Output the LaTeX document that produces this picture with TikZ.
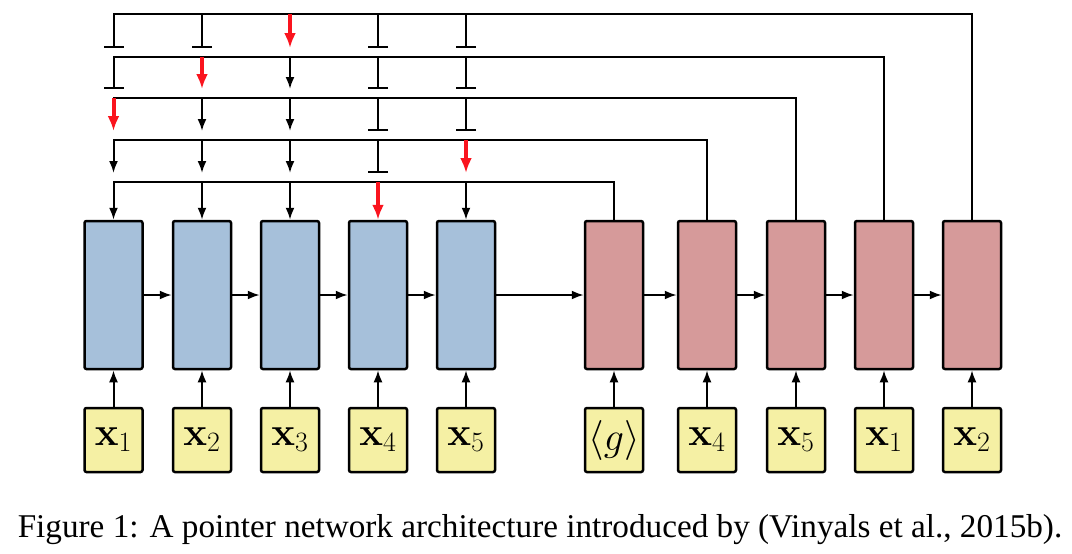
\documentclass[tikz,border=0pt]{standalone}
\usepackage{fix-cm}
\usepackage[no-math]{fontspec}
\usetikzlibrary{arrows.meta}
\setmainfont{Liberation Serif}
\definecolor{encblue}{RGB}{166,192,218}
\definecolor{decred}{RGB}{214,154,154}
\definecolor{inyellow}{RGB}{245,240,164}
\definecolor{ptrred}{RGB}{250,20,30}
\tikzset{
  rnnbox/.style={draw=black,line width=2.5pt,rounded corners=2pt,minimum width=58pt,minimum height=148pt,inner sep=0pt},
  inbox/.style={draw=black,fill=inyellow,line width=2.5pt,rounded corners=2pt,minimum width=58pt,minimum height=64pt,inner sep=0pt,font=\fontsize{40}{44}\selectfont},
  blocked/.style={-{Bar[width=20pt]}},
  pointed/.style={-{Latex[length=12pt,width=9pt]}},
  chosen/.style={draw=ptrred,line width=4pt,-{Latex[length=15pt,width=12pt]}}
}

\begin{document}
\begin{tikzpicture}[x=1pt,y=-1pt]
  \useasboundingbox (0,0) rectangle (1072,554);

  % encoder
  \node[rnnbox,fill=encblue] (e1) at (113.5,295) {};
  \node[rnnbox,fill=encblue] (e2) at (202,295) {};
  \node[rnnbox,fill=encblue] (e3) at (290,295) {};
  \node[rnnbox,fill=encblue] (e4) at (378,295) {};
  \node[rnnbox,fill=encblue] (e5) at (466,295) {};
  % decoder
  \node[rnnbox,fill=decred] (d1) at (614,295) {};
  \node[rnnbox,fill=decred] (d2) at (707,295) {};
  \node[rnnbox,fill=decred] (d3) at (796,295) {};
  \node[rnnbox,fill=decred] (d4) at (884,295) {};
  \node[rnnbox,fill=decred] (d5) at (972,295) {};
  % inputs
  \node[inbox] (i1) at (113.5,440) {$\mathbf{x}_1$};
  \node[inbox] (i2) at (202,440) {$\mathbf{x}_2$};
  \node[inbox] (i3) at (290,440) {$\mathbf{x}_3$};
  \node[inbox] (i4) at (378,440) {$\mathbf{x}_4$};
  \node[inbox] (i5) at (466,440) {$\mathbf{x}_5$};
  \node[inbox] (j1) at (614,440) {$\langle g\rangle$};
  \node[inbox] (j2) at (707,440) {$\mathbf{x}_4$};
  \node[inbox] (j3) at (796,440) {$\mathbf{x}_5$};
  \node[inbox] (j4) at (884,440) {$\mathbf{x}_1$};
  \node[inbox] (j5) at (972,440) {$\mathbf{x}_2$};

  \node[font=\fontsize{33.2}{38}\selectfont,anchor=base,inner sep=0pt] (cap) at (540,537)
    {Figure 1: A pointer network architecture introduced by (Vinyals et al., 2015b).};

  \coordinate (L1) at (0,14);
  \coordinate (L2) at (0,57);
  \coordinate (L3) at (0,98);
  \coordinate (L4) at (0,140);
  \coordinate (L5) at (0,182);
  \coordinate (T1) at (0,48);
  \coordinate (T2) at (0,89);
  \coordinate (T3) at (0,131);
  \coordinate (T4) at (0,173);

  \begin{scope}[line width=2pt,>={Latex[length=12pt,width=9pt]}]
      % inputs and recurrence:
      \draw[->] (i1) -- (e1);
      \draw[->] (i2) -- (e2);
      \draw[->] (i3) -- (e3);
      \draw[->] (i4) -- (e4);
      \draw[->] (i5) -- (e5);
      \draw[->] (j1) -- (d1);
      \draw[->] (j2) -- (d2);
      \draw[->] (j3) -- (d3);
      \draw[->] (j4) -- (d4);
      \draw[->] (j5) -- (d5);
      \draw[->] (e1) -- (e2);
      \draw[->] (e2) -- (e3);
      \draw[->] (e3) -- (e4);
      \draw[->] (e4) -- (e5);
      \draw[->] (e5) -- (d1);
      \draw[->] (d1) -- (d2);
      \draw[->] (d2) -- (d3);
      \draw[->] (d3) -- (d4);
      \draw[->] (d4) -- (d5);
      % pointer lines:
      \draw[line cap=rect] (e1 |- L1) -| (d5.north);
      \draw[line cap=rect] (e1 |- L2) -| (d4.north);
      \draw[line cap=rect] (e1 |- L3) -| (d3.north);
      \draw[line cap=rect] (e1 |- L4) -| (d2.north);
      \draw[line cap=rect] (e1 |- L5) -| (d1.north);
      % step 1:
      \draw[blocked] (e1 |- L1) -- (e1 |- T1);
      \draw[blocked] (e2 |- L1) -- (e2 |- T1);
      \draw[blocked] (e4 |- L1) -- (e4 |- T1);
      \draw[blocked] (e5 |- L1) -- (e5 |- T1);
      \draw[chosen] (e3 |- L1) -- (e3 |- T1);
      % step 2:
      \draw[blocked] (e1 |- L2) -- (e1 |- T2);
      \draw[pointed] (e3 |- L2) -- (e3 |- T2);
      \draw[blocked] (e4 |- L2) -- (e4 |- T2);
      \draw[blocked] (e5 |- L2) -- (e5 |- T2);
      \draw[chosen] (e2 |- L2) -- (e2 |- T2);
      % step 3:
      \draw[pointed] (e2 |- L3) -- (e2 |- T3);
      \draw[pointed] (e3 |- L3) -- (e3 |- T3);
      \draw[blocked] (e4 |- L3) -- (e4 |- T3);
      \draw[blocked] (e5 |- L3) -- (e5 |- T3);
      \draw[chosen] (e1 |- L3) -- (e1 |- T3);
      % step 4:
      \draw[pointed] (e1 |- L4) -- (e1 |- T4);
      \draw[pointed] (e2 |- L4) -- (e2 |- T4);
      \draw[pointed] (e3 |- L4) -- (e3 |- T4);
      \draw[blocked] (e4 |- L4) -- (e4 |- T4);
      \draw[chosen] (e5 |- L4) -- (e5 |- T4);
      % step 5:
      \draw[pointed] (e1 |- L5) -- (e1.north);
      \draw[pointed] (e2 |- L5) -- (e2.north);
      \draw[pointed] (e3 |- L5) -- (e3.north);
      \draw[pointed] (e5 |- L5) -- (e5.north);
      \draw[chosen] (e4 |- L5) -- (e4.north);
  \end{scope}
\end{tikzpicture}
\end{document}
